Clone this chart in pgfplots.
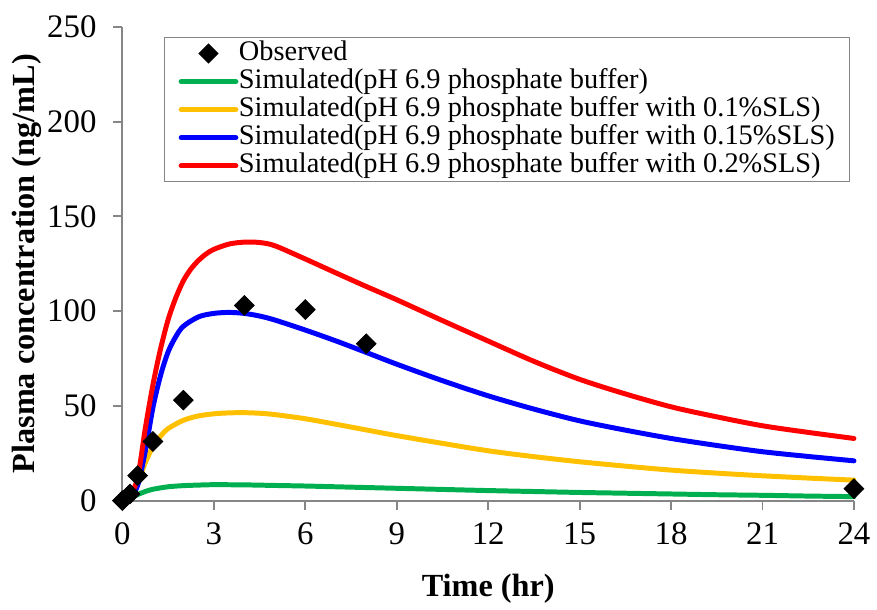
\documentclass[border=0pt]{standalone}
\usepackage{pgfplots}
\pgfplotsset{compat=1.18}
\usepackage{fontspec}
\setmainfont{Liberation Serif}
\definecolor{cgreen}{HTML}{00B050}
\definecolor{cyellow}{HTML}{FFC000}
\definecolor{cblue}{HTML}{0000FF}
\definecolor{cred}{HTML}{FF0000}
\definecolor{axgray}{HTML}{868686}
\begin{document}
\begin{tikzpicture}
\begin{axis}[
  scale only axis,
  width=367.5pt, height=238pt,
  xmin=0, xmax=24, ymin=0, ymax=250,
  xtick={0,3,...,24}, ytick={0,50,...,250},
  axis x line*=bottom, axis y line*=left,
  axis line style={axgray, line width=1pt},
  tick align=outside,
  major tick length=4.5pt,
  tick style={axgray, line width=1pt},
  /pgf/number format/assume math mode=true,
  ticklabel style={font=\fontsize{16.5}{18}\selectfont},
  yticklabel style={xshift=-5pt},
  xticklabel style={yshift=-3pt},
  xlabel={\textbf{Time (hr)}},
  ylabel={\textbf{Plasma concentration (ng/mL)}},
  label style={font=\fontsize{16.2}{18}\selectfont},
  xlabel style={at={(axis description cs:0.5,-0.185)}, anchor=center},
  ylabel style={at={(axis description cs:-0.1306,0.5)}, anchor=center},
  clip=false,
  legend cell align=left,
  legend style={at={(axis description cs:0.057,0.979)}, anchor=north west,
    draw=axgray, line width=0.6pt, font=\fontsize{14.25}{14}\selectfont,
    inner xsep=7pt, inner ysep=1pt,
    nodes={inner sep=0.3pt, text height=10.3pt, text depth=3.2pt}},
  legend image code/.code={\draw[#1, line cap=round] (0pt,0pt) -- (27.5pt,0pt);},
]
\addplot[only marks, mark=square*, mark size=3.5pt, mark options={rotate=45, fill=black, draw=black},
  legend image code/.code={\draw[black, fill=black] plot[mark=square*, mark size=3.3pt, mark options={rotate=45}] coordinates {(13.75pt,0pt)};}]
  coordinates {(0,0) (0.25,3.5) (0.5,13.2) (1,31.2) (2,53) (4,103) (6,100.8) (8,82.8) (24,6.3)};
\addlegendentry{Observed}
\addplot[cgreen, line width=2.5pt, smooth, line cap=round, line join=round] coordinates {
(0,0) (0.25,1.5) (0.5,3.2) (0.75,4.8) (1,6) (1.5,7.3) (2,7.9) (2.5,8.2) (3,8.4) (4,8.3) (5,8) (6,7.7) (7,7.3) (8,6.9) (9,6.5) (10.5,5.9) (12,5.3) (13.5,4.8) (15,4.3) (16.5,3.9) (18,3.5) (19.5,3.1) (21,2.8) (22.5,2.4) (24,2.1)};
\addlegendentry{Simulated(pH 6.9 phosphate buffer)}
\addplot[cyellow, line width=2.5pt, smooth, line cap=round, line join=round] coordinates {
(0,0) (0.25,3) (0.5,9.5) (0.75,20) (1,28.5) (1.25,34) (1.5,38) (2,42.4) (2.5,44.7) (3,45.8) (3.5,46.3) (4,46.4) (4.5,46.1) (5,45.4) (6,43.2) (7,40.3) (8,37.3) (9,34.3) (10.5,30.2) (12,26.3) (13.5,23.2) (15,20.5) (16.5,18.2) (18,16.1) (19.5,14.5) (21,13.1) (22.5,11.9) (24,10.8)};
\addlegendentry{Simulated(pH 6.9 phosphate buffer with 0.1\%SLS)}
\addplot[cblue, line width=2.5pt, smooth, line cap=round, line join=round] coordinates {
(0,0) (0.25,2) (0.5,8) (0.75,26) (1,49) (1.25,66) (1.5,78.5) (1.75,86.5) (2,92) (2.5,97) (3,98.8) (3.5,99.3) (4,98.8) (4.5,97.4) (5,95.3) (6,90) (7,84.3) (8,78.2) (9,72) (10.5,63.3) (12,55.3) (13.5,48.3) (15,42.1) (16.5,37.2) (18,32.8) (19.5,29.1) (21,25.8) (22.5,23.3) (24,21)};
\addlegendentry{Simulated(pH 6.9 phosphate buffer with 0.15\%SLS)}
\addplot[cred, line width=2.5pt, smooth, line cap=round, line join=round] coordinates {
(0,0) (0.25,3) (0.5,12) (0.75,38) (1,61) (1.25,80) (1.5,95.5) (1.75,107) (2,116) (2.25,122.3) (2.5,126.8) (2.75,130.2) (3,132.6) (3.5,135.4) (4,136.4) (4.5,136.2) (5,134.5) (6,127.5) (7,120.2) (8,113) (9,106) (10.5,95) (12,84.2) (13.5,73.5) (15,64) (16.5,56.3) (18,49.5) (19.5,44.2) (21,39.5) (22.5,36) (24,32.8)};
\addlegendentry{Simulated(pH 6.9 phosphate buffer with 0.2\%SLS)}
\end{axis}
\path[use as bounding box] (-61.5pt,-50pt) rectangle (377pt,251.5pt);
\end{tikzpicture}
\end{document}
